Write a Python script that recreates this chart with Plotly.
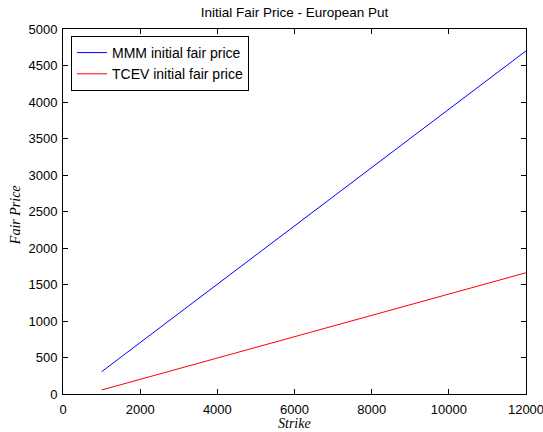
import plotly.graph_objects as go

strike = [1000, 2000, 3000, 4000, 5000, 6000, 7000, 8000, 9000, 10000, 11000, 12000]
mmm_price = [305, 705, 1105, 1505, 1900, 2300, 2700, 3100, 3500, 3900, 4300, 4700]
tcev_price = [55, 201, 347, 493, 639, 785, 931, 1077, 1223, 1369, 1515, 1661]

x_ticks = [0, 2000, 4000, 6000, 8000, 10000, 12000]
y_ticks = [0, 500, 1000, 1500, 2000, 2500, 3000, 3500, 4000, 4500, 5000]

font_main = "Liberation Sans, Arial, sans-serif"
font_label = "Liberation Serif, serif"

fig = go.Figure()
fig.add_trace(go.Scatter(x=strike, y=mmm_price, mode="lines",
                         name="MMM initial fair price",
                         line=dict(color="#0000ff", width=1)))
fig.add_trace(go.Scatter(x=strike, y=tcev_price, mode="lines",
                         name="TCEV initial fair price",
                         line=dict(color="#ff0000", width=1)))

axis_common = dict(showline=True, linecolor="black", linewidth=1, mirror="ticks",
                   ticks="inside", ticklen=5, tickcolor="black", showgrid=False,
                   zeroline=False, ticklabeloverflow="allow", automargin=False,
                   tickfont=dict(family=font_main, size=13, color="black"))

fig.update_layout(
    width=543, height=432,
    margin=dict(l=63, r=17, t=29, b=38),
    paper_bgcolor="white", plot_bgcolor="white",
    title=dict(text="Initial Fair Price - European Put", x=(63 + 526) / 2 / 543, xanchor="center",
               y=1 - 12 / 432, yanchor="middle",
               font=dict(family=font_main, size=13.5, color="black")),
    xaxis=dict(range=[0, 12000], tickvals=x_ticks, ticktext=[str(v) for v in x_ticks],
               ticklabelstandoff=3, **axis_common),
    yaxis=dict(range=[0, 5000], tickvals=y_ticks, ticktext=[str(v) for v in y_ticks],
               ticklabelstandoff=2, **axis_common),
    legend=dict(x=8 / 463, y=1 - 7 / 365, xanchor="left", yanchor="top",
                bgcolor="white", bordercolor="black", borderwidth=1,
                font=dict(family=font_main, size=14, color="black"),
                tracegroupgap=0),
    showlegend=True,
    annotations=[
        dict(text="<i>Strike</i>", xref="paper", yref="paper", x=0.5, y=-30 / 365,
             xanchor="center", yanchor="middle", showarrow=False,
             font=dict(family=font_label, size=14, color="black")),
        dict(text="<i>Fair Price</i>", xref="paper", yref="paper", x=-48 / 463, y=0.49,
             xanchor="center", yanchor="middle", showarrow=False, textangle=-90,
             font=dict(family=font_label, size=14, color="black")),
    ],
)

fig.write_html("out.html")
